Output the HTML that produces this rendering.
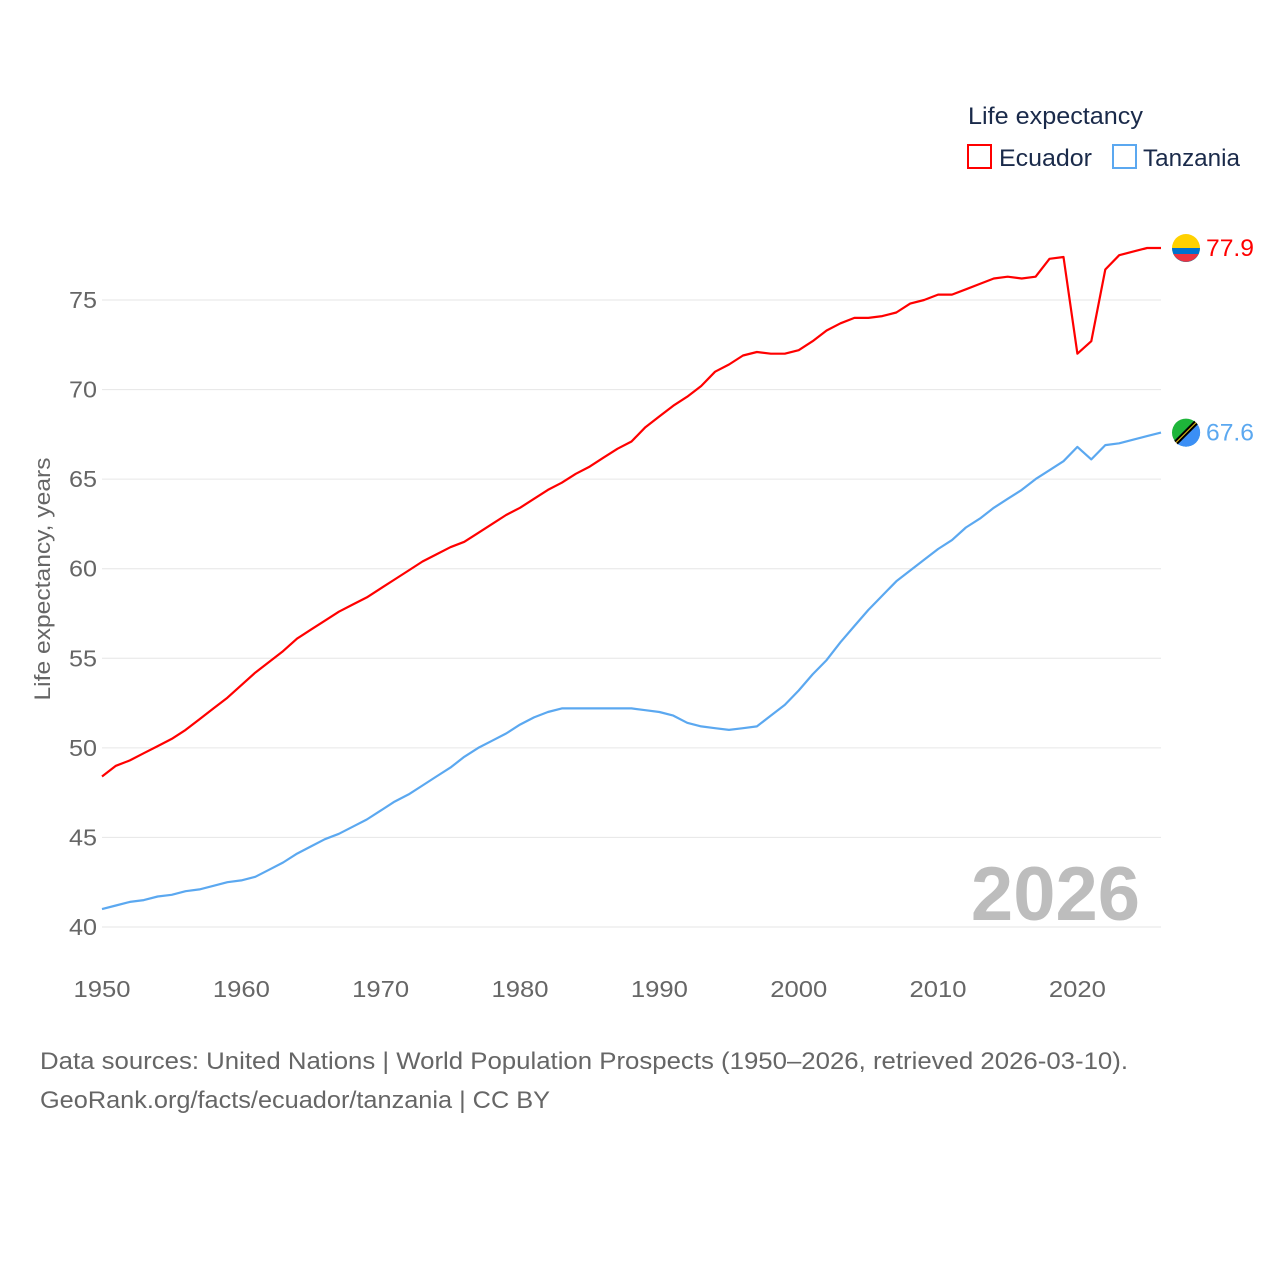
<!DOCTYPE html>
<html><head><meta charset="utf-8"><style>
body{margin:0;background:#fff;width:1280px;height:1280px;overflow:hidden;font-family:"Liberation Sans",sans-serif}
</style></head><body>
<svg id="chart" width="1280" height="1280" xmlns="http://www.w3.org/2000/svg" font-family="Liberation Sans, sans-serif">
<g id="grid"></g>
<g id="yticks"></g>
<g id="xticks"></g>
<text x="50" y="579" transform="rotate(-90 50 579)" text-anchor="middle" font-size="22" fill="#666" textLength="243" lengthAdjust="spacingAndGlyphs">Life expectancy, years</text>
<text x="1140" y="920" text-anchor="end" font-size="76" font-weight="bold" fill="#bdbdbd">2026</text>
<g id="series"></g>
<g>
<text x="968" y="124" font-size="24" fill="#1a2a4a" textLength="175" lengthAdjust="spacingAndGlyphs">Life expectancy</text>
<g><rect x="968" y="145" width="23" height="23" fill="none" stroke="#ff0000" stroke-width="2"/><text x="999" y="166" font-size="24" fill="#1a2a4a" textLength="93" lengthAdjust="spacingAndGlyphs">Ecuador</text></g>
<g><rect x="1113" y="145" width="23" height="23" fill="none" stroke="#5ba8f0" stroke-width="2"/><text x="1143" y="166" font-size="24" fill="#1a2a4a" textLength="97" lengthAdjust="spacingAndGlyphs">Tanzania</text></g>
</g>
<text x="40" y="1069" font-size="24" fill="#666" textLength="1088" lengthAdjust="spacingAndGlyphs">Data sources: United Nations | World Population Prospects (1950–2026, retrieved 2026-03-10).</text>
<text x="40" y="1108" font-size="24" fill="#666" textLength="510" lengthAdjust="spacingAndGlyphs">GeoRank.org/facts/ecuador/tanzania | CC BY</text>
</svg>
<script>
const years=[];for(let y=1950;y<=2026;y++)years.push(y);
const ecuador=[48.4,49.0,49.3,49.7,50.1,50.5,51.0,51.6,52.2,52.8,53.5,54.2,54.8,55.4,56.1,56.6,57.1,57.6,58.0,58.4,58.9,59.4,59.9,60.4,60.8,61.2,61.5,62.0,62.5,63.0,63.4,63.9,64.4,64.8,65.3,65.7,66.2,66.7,67.1,67.9,68.5,69.1,69.6,70.2,71.0,71.4,71.9,72.1,72.0,72.0,72.2,72.7,73.3,73.7,74.0,74.0,74.1,74.3,74.8,75.0,75.3,75.3,75.6,75.9,76.2,76.3,76.2,76.3,77.3,77.4,72.0,72.7,76.7,77.5,77.7,77.9,77.9];
const tanzania=[41.0,41.2,41.4,41.5,41.7,41.8,42.0,42.1,42.3,42.5,42.6,42.8,43.2,43.6,44.1,44.5,44.9,45.2,45.6,46.0,46.5,47.0,47.4,47.9,48.4,48.9,49.5,50.0,50.4,50.8,51.3,51.7,52.0,52.2,52.2,52.2,52.2,52.2,52.2,52.1,52.0,51.8,51.4,51.2,51.1,51.0,51.1,51.2,51.8,52.4,53.2,54.1,54.9,55.9,56.8,57.7,58.5,59.3,59.9,60.5,61.1,61.6,62.3,62.8,63.4,63.9,64.4,65.0,65.5,66.0,66.8,66.1,66.9,67.0,67.2,67.4,67.6];
const yTicks=[40,45,50,55,60,65,70,75];
const xTicks=[1950,1960,1970,1980,1990,2000,2010,2020];
const NS="http://www.w3.org/2000/svg";
const X=v=>102+(v-1950)*(1161-102)/76;
const Y=v=>927-(v-40)*(927-300)/35;
function mk(t,a,p){const e=document.createElementNS(NS,t);for(const k in a)e.setAttribute(k,a[k]);p.appendChild(e);return e;}
const grid=document.getElementById('grid'),yt=document.getElementById('yticks'),xt=document.getElementById('xticks'),ser=document.getElementById('series');
yTicks.forEach(v=>{
 const l=mk('line',{x1:102,x2:1161,y1:Y(v),y2:Y(v),stroke:'#e6e6e6','stroke-width':1},grid);
 
 
 const t=mk('text',{x:97,y:Y(v)+8,'text-anchor':'end','font-size':23,fill:'#666',textLength:28,lengthAdjust:'spacingAndGlyphs'},yt);t.textContent=v;
 
 
});
xTicks.forEach(v=>{
 const t=mk('text',{x:X(v),y:997,'text-anchor':'middle','font-size':23,fill:'#666',textLength:57,lengthAdjust:'spacingAndGlyphs'},xt);t.textContent=v;
 
 
});
function line(vals,color,name){
 const d=vals.map((v,i)=>(i?'L':'M')+X(years[i]).toFixed(1)+' '+Y(v).toFixed(1)).join(' ');
 const p=mk('path',{d:d,fill:'none',stroke:color,'stroke-width':2.2,'stroke-linejoin':'round'},ser);
 
 
 const last=vals[vals.length-1],cy=Y(last);
 const c=mk('circle',{cx:1186,cy:cy,r:14,fill:name==='ecuador'?'#ffd100':'#1eb53a'},ser);
 
 
 if(name==='ecuador'){mk('path',{d:`M1172 ${cy} h28 a14 14 0 0 1 -28 0z`,fill:'#0072ce'},ser);mk('path',{d:`M1173.5 ${cy+6} h25 a14 14 0 0 1 -25 0z`,fill:'#ef3340'},ser);}
 else{mk('path',{d:`M1196 ${cy-10} A14 14 0 0 1 1176 ${cy+10}z`,fill:'#3b8ff5'},ser);mk('line',{x1:1176,y1:cy+10,x2:1196,y2:cy-10,stroke:'#000','stroke-width':5},ser);mk('line',{x1:1176,y1:cy+10,x2:1196,y2:cy-10,stroke:'#fcd116','stroke-width':1},ser);}
 const t=mk('text',{x:1206,y:cy+8,'font-size':24,fill:color,textLength:48,lengthAdjust:'spacingAndGlyphs'},ser);t.textContent=last.toFixed(1);
 
 
}
line(ecuador,'#ff0000','ecuador');
line(tanzania,'#5ba8f0','tanzania');
</script>
</body></html>
